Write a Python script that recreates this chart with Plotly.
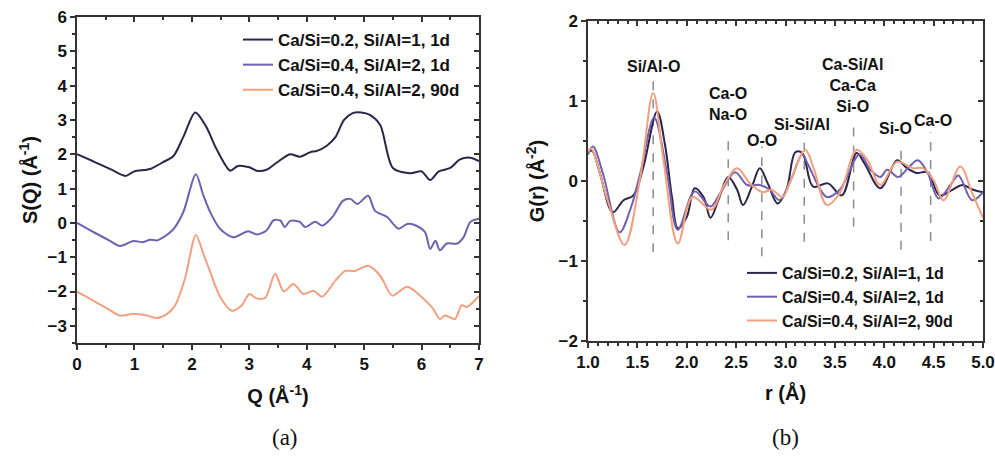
import plotly.graph_objects as go

# ---------------- data: panel (a) S(Q) ----------------
q_dark = [0, 0.3, 0.6, 0.84, 1.0, 1.27, 1.5, 1.68, 1.85, 2.06, 2.25, 2.43, 2.67, 2.8, 3.0, 3.13, 3.3,
          3.48, 3.71, 3.88, 4.06, 4.18, 4.35, 4.5, 4.65, 4.8, 4.95, 5.1, 5.28, 5.5, 5.8, 6.0, 6.15,
          6.3, 6.5, 6.67, 6.85, 7.0]
s_dark = [2.0, 1.78, 1.55, 1.37, 1.5, 1.57, 1.77, 1.95, 2.5, 3.22, 2.8, 2.15, 1.52, 1.66, 1.62, 1.52, 1.55,
          1.76, 2.0, 1.93, 2.06, 2.1, 2.25, 2.5, 3.0, 3.2, 3.22, 3.15, 2.85, 1.6, 1.45, 1.5, 1.25,
          1.5, 1.6, 1.85, 1.9, 1.8]

q_purple = [0, 0.3, 0.55, 0.75, 0.98, 1.15, 1.27, 1.39, 1.5, 1.68, 1.85, 2.07, 2.2, 2.32, 2.49, 2.72,
            2.98, 3.13, 3.3, 3.42, 3.54, 3.62, 3.71, 3.88, 3.97, 4.15, 4.27, 4.46, 4.63, 4.76, 4.88,
            5.07, 5.19, 5.4, 5.6, 5.75, 5.92, 6.06, 6.15, 6.24, 6.32, 6.44, 6.62, 6.73, 6.85, 7.0]
s_purple = [0, -0.28, -0.5, -0.67, -0.53, -0.56, -0.49, -0.51, -0.42, -0.18, 0.31, 1.42, 0.8, 0.31, -0.17,
            -0.42, -0.24, -0.34, -0.22, 0.07, 0.07, -0.12, 0.06, 0.03, -0.12, 0.03, -0.08, 0.2, 0.64,
            0.7, 0.55, 0.79, 0.35, 0.17, -0.17, -0.03, -0.09, -0.27, -0.76, -0.52, -0.8, -0.6, -0.6,
            -0.42, 0.03, 0.12]

q_orange = [0, 0.3, 0.55, 0.75, 0.98, 1.22, 1.39, 1.57, 1.71, 1.88, 2.07, 2.2, 2.32, 2.49, 2.7, 2.87,
            3.0, 3.13, 3.28, 3.45, 3.6, 3.77, 3.94, 4.12, 4.27, 4.5, 4.67, 4.84, 5.07, 5.28, 5.49,
            5.75, 6.03, 6.2, 6.32, 6.41, 6.58, 6.7, 6.79, 7.0]
s_orange = [-2.0, -2.28, -2.52, -2.7, -2.65, -2.7, -2.77, -2.65, -2.4, -1.62, -0.35, -0.9, -1.43, -2.15,
            -2.56, -2.4, -2.07, -2.2, -2.18, -1.48, -2.0, -1.78, -2.07, -1.98, -2.15, -1.68, -1.4,
            -1.4, -1.25, -1.54, -2.12, -1.86, -2.2, -2.5, -2.8, -2.7, -2.8, -2.4, -2.45, -2.13]

# ---------------- data: panel (b) G(r) ----------------
r_dark = [1.0, 1.04, 1.12, 1.25, 1.36, 1.46, 1.56, 1.70, 1.78, 1.85, 1.91, 2.0, 2.08, 2.17, 2.24, 2.32,
          2.42, 2.51, 2.57, 2.66, 2.74, 2.82, 2.92, 3.01, 3.10, 3.17, 3.28, 3.43, 3.57, 3.72, 3.8,
          3.96, 4.13, 4.23, 4.33, 4.44, 4.56, 4.69, 4.79, 4.9, 5.0]
g_dark = [0.36, 0.38, 0.1, -0.39, -0.24, -0.18, 0.17, 0.87, 0.45, -0.2, -0.59, -0.45, -0.09, -0.2, -0.46,
          -0.24, 0.05, -0.11, -0.3, -0.07, 0.16, -0.03, -0.28, -0.11, 0.36, 0.35, -0.07, -0.03, -0.18,
          0.35, 0.22, -0.09, 0.26, 0.16, 0.1, 0.11, -0.18, -0.11, -0.05, -0.11, -0.14]

r_purple = [1.0, 1.05, 1.15, 1.32, 1.43, 1.53, 1.67, 1.8, 1.91, 2.08, 2.24, 2.34, 2.49, 2.61, 2.74, 2.84,
            2.94, 3.05, 3.17, 3.23, 3.42, 3.55, 3.75, 3.86, 3.96, 4.03, 4.14, 4.24, 4.34, 4.44, 4.55,
            4.67, 4.75, 4.89, 5.0]
g_purple = [0.33, 0.43, 0.1, -0.64, -0.35, 0.1, 0.79, 0.1, -0.61, -0.13, -0.32, -0.15, 0.11, -0.05, -0.05,
            -0.11, -0.24, 0.0, 0.33, 0.2, -0.2, -0.11, 0.33, 0.14, 0.05, 0.14, 0.05, 0.16, 0.26, 0.1,
            -0.22, -0.05, 0.07, -0.24, -0.14]

r_orange = [1.0, 1.03, 1.2, 1.37, 1.53, 1.66, 1.76, 1.91, 2.06, 2.25, 2.37, 2.51, 2.64, 2.77, 2.86, 2.97,
            3.05, 3.2, 3.28, 3.42, 3.55, 3.72, 3.83, 3.96, 4.13, 4.29, 4.39, 4.5, 4.6, 4.77, 4.89, 5.0]
g_orange = [0.36, 0.41, -0.25, -0.8, 0.05, 1.1, 0.3, -0.78, -0.2, -0.36, -0.07, 0.16, -0.03, -0.14, -0.11,
            -0.2, 0.0, 0.39, 0.18, -0.3, -0.15, 0.39, 0.26, -0.05, 0.24, 0.16, 0.16, 0.01, -0.24, 0.18,
            -0.15, -0.46]

series_names = ["Ca/Si=0.2, Si/Al=1, 1d", "Ca/Si=0.4, Si/Al=2, 1d", "Ca/Si=0.4, Si/Al=2, 90d"]
series_colors = ["#2d2448", "#7060b0", "#f2a07f"]

# reference bond distances (dashed markers) and labels
bond_r = [1.66, 2.42, 2.76, 3.19, 3.69, 4.17, 4.47]
bond_top = [1.26, 0.61, 0.43, 0.60, 0.76, 0.49, 0.61]
bond_bottom = [-0.89, -0.74, -0.94, -0.76, -0.57, -0.86, -0.75]
label_text = ["Si/Al-O", "Ca-O<br>Na-O", "O-O", "Si-Si/Al", "Ca-Si/Al<br>Ca-Ca<br>Si-O", "Si-O", "Ca-O"]
label_r = [1.66, 2.42, 2.76, 3.17, 3.68, 4.11, 4.49]
label_g = [1.425, 0.96, 0.51, 0.71, 1.19, 0.66, 0.76]

FONT = "Liberation Sans, Arial, sans-serif"
AXC = "#333333"
TXT = "#111111"

fig = go.Figure()
for name, color, xs, ys in zip(series_names, series_colors,
                               [q_dark, q_purple, q_orange], [s_dark, s_purple, s_orange]):
    fig.add_trace(go.Scatter(x=xs, y=ys, mode="lines", name=name, xaxis="x", yaxis="y",
                             line=dict(color=color, width=2, shape="spline", smoothing=0.8),
                             legend="legend"))
for name, color, xs, ys in zip(series_names, series_colors,
                               [r_dark, r_purple, r_orange], [g_dark, g_purple, g_orange]):
    fig.add_trace(go.Scatter(x=xs, y=ys, mode="lines", name=name, xaxis="x2", yaxis="y2",
                             line=dict(color=color, width=2, shape="spline", smoothing=1.0),
                             legend="legend2"))
# empty traces that only activate the mirrored (inside-tick) frame axes
for xa, ya in [("x3", "y3"), ("x4", "y4")]:
    fig.add_trace(go.Scatter(x=[], y=[], xaxis=xa, yaxis=ya, showlegend=False, hoverinfo="skip"))

shapes = []
for xr, yt, yb in zip(bond_r, bond_top, bond_bottom):
    shapes.append(dict(type="line", xref="x2", yref="y2", x0=xr, x1=xr, y0=yb, y1=yt,
                       line=dict(color="#8c8c8c", width=1.5, dash="dash"), layer="below"))

annotations = []
for t, xr, yg in zip(label_text, label_r, label_g):
    annotations.append(dict(text="<b>%s</b>" % t, x=xr, y=yg, xref="x2", yref="y2", showarrow=False,
                            xanchor="center", yanchor="middle",
                            font=dict(family=FONT, size=16, color=TXT)))
for t, xp in [("(a)", 285 / 995), ("(b)", 785 / 995)]:
    annotations.append(dict(text=t, x=xp, y=1 - 437 / 462, xref="paper", yref="paper", showarrow=False,
                            xanchor="center", yanchor="middle",
                            font=dict(family="Liberation Serif, Times New Roman, serif", size=23,
                                      color=TXT)))

tickfont = dict(family=FONT, size=17, color=TXT, weight="bold")
titlefont = dict(family=FONT, size=20, color=TXT)

def main_axis(**kw):
    d = dict(showline=True, linecolor=AXC, linewidth=1.5, mirror=True, ticks="outside", ticklen=5,
             tickwidth=1.5, tickcolor=AXC, showgrid=False, zeroline=False, tickfont=tickfont,
             automargin=False)
    d.update(kw)
    return d

def mirror_axis(**kw):
    d = dict(showline=False, ticks="inside", ticklen=5, tickwidth=1.5, tickcolor=AXC,
             showgrid=False, zeroline=False, showticklabels=False, automargin=False)
    d.update(kw)
    return d

xa_dom = [77 / 995, 479 / 995]
ya_dom = [1 - 343 / 462, 1 - 17 / 462]
xb_dom = [588 / 995, 983 / 995]
yb_dom = [1 - 341 / 462, 1 - 21 / 462]

fig.update_layout(
    width=995, height=462, margin=dict(l=0, r=0, t=0, b=0),
    paper_bgcolor="white", plot_bgcolor="rgba(0,0,0,0)",
    font=dict(family=FONT, color=TXT),
    xaxis=main_axis(domain=xa_dom, anchor="y", range=[0, 7], dtick=1, tick0=0,
                    minor=dict(dtick=0.5, ticks="outside", ticklen=3, tickcolor=AXC),
                    title=dict(text="<b>Q (Å<sup>-1</sup>)</b>", font=titlefont, standoff=16)),
    yaxis=main_axis(domain=ya_dom, anchor="x", range=[-3.5, 6], dtick=1, tick0=0,
                    minor=dict(dtick=0.5, ticks="outside", ticklen=3, tickcolor=AXC),
                    title=dict(text="<b>S(Q) (Å<sup>-1</sup>)</b>", font=titlefont, standoff=4)),
    xaxis2=main_axis(domain=xb_dom, anchor="y2", range=[1, 5], dtick=0.5, tick0=1, tickformat=".1f",
                     minor=dict(dtick=0.1, ticks="outside", ticklen=3, tickcolor=AXC),
                     title=dict(text="<b>r (Å)</b>", font=titlefont, standoff=15)),
    yaxis2=main_axis(domain=yb_dom, anchor="x2", range=[-2, 2], dtick=1, tick0=0,
                     minor=dict(dtick=0.5, ticks="outside", ticklen=3, tickcolor=AXC),
                     title=dict(text="<b>G(r) (Å<sup>-2</sup>)</b>", font=titlefont, standoff=8)),
    xaxis3=mirror_axis(overlaying="x", anchor="y", side="top", range=[0, 7], dtick=1, tick0=0,
                       minor=dict(dtick=0.5, ticks="inside", ticklen=3, tickcolor=AXC)),
    yaxis3=mirror_axis(overlaying="y", anchor="x", side="right", range=[-3.5, 6], dtick=1, tick0=0,
                       minor=dict(dtick=0.5, ticks="inside", ticklen=3, tickcolor=AXC)),
    xaxis4=mirror_axis(overlaying="x2", anchor="y2", side="top", range=[1, 5], dtick=0.5, tick0=1,
                       minor=dict(dtick=0.1, ticks="inside", ticklen=3, tickcolor=AXC)),
    yaxis4=mirror_axis(overlaying="y2", anchor="x2", side="right", range=[-2, 2], dtick=1, tick0=0,
                       minor=dict(dtick=0.5, ticks="inside", ticklen=3, tickcolor=AXC)),
    legend=dict(x=238 / 995, y=1 - 22 / 462, xanchor="left", yanchor="top", bgcolor="rgba(0,0,0,0)",
                font=dict(family=FONT, size=17, color=TXT, weight="bold"), tracegroupgap=0,
                itemwidth=30),
    legend2=dict(x=742 / 995, y=1 - 256 / 462, xanchor="left", yanchor="top", bgcolor="rgba(0,0,0,0)",
                 font=dict(family=FONT, size=16, color=TXT, weight="bold"), tracegroupgap=0,
                 itemwidth=30),
    shapes=shapes, annotations=annotations,
)

fig.write_html("out.html")
